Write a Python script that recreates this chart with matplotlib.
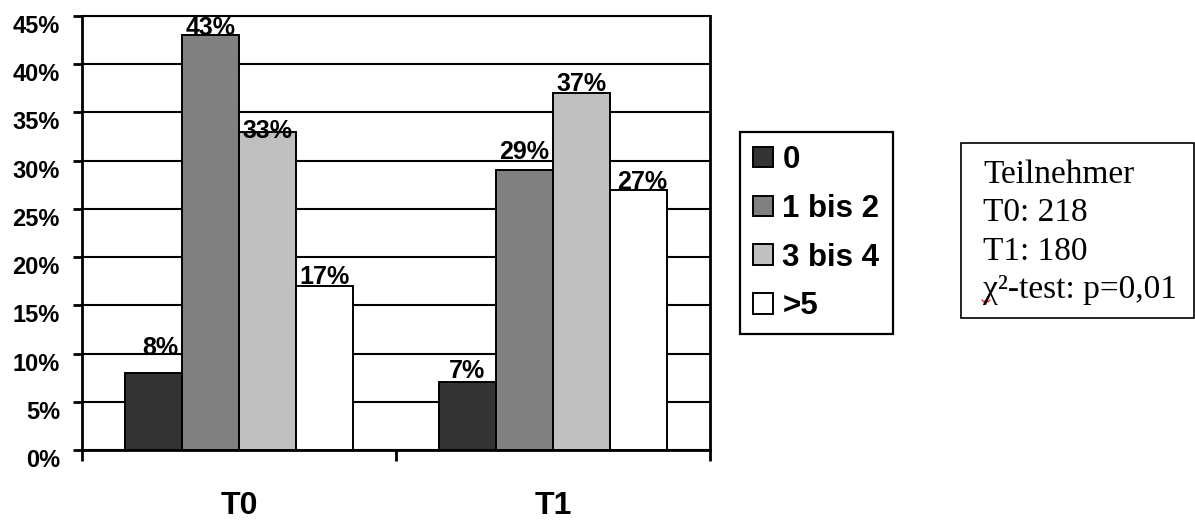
import numpy as np
import matplotlib
matplotlib.use("Agg")
import matplotlib.pyplot as plt
from matplotlib.patches import Rectangle
from matplotlib.lines import Line2D
from matplotlib.transforms import ScaledTranslation, blended_transform_factory

# ---- data -------------------------------------------------------------
groups = ["T0", "T1"]
series_names = ["0", "1 bis 2", "3 bis 4", ">5"]
share_0 = [8, 7]
share_1_2 = [43, 29]
share_3_4 = [33, 37]
share_5 = [17, 27]
y_ticks = [0, 5, 10, 15, 20, 25, 30, 35, 40, 45]
participants_t0 = 218
participants_t1 = 180
p_value = "0,01"

series = [share_0, share_1_2, share_3_4, share_5]
colors = ["#333333", "#808080", "#c0c0c0", "#ffffff"]

# label nudges (pixels, dx/dy) per series, per group
label_nudge = [
    [(7, 18), (0, 4)],
    [(0, 0), (0, 11)],
    [(0, -6), (0, 2)],
    [(0, 2), (3, 1)],
]

# ---- figure -----------------------------------------------------------
W, H, DPI = 1195, 521, 100
fig = plt.figure(figsize=(W / DPI, H / DPI), dpi=DPI)
fig.patch.set_facecolor("white")


def pt(p):
    """pixels -> points"""
    return p * 72.0 / DPI


ax = fig.add_axes([82 / W, 1 - 450 / H, (710 - 82) / W, (450 - 16) / H])

sans = "Liberation Sans"
x = np.arange(len(groups))
width = 0.182

for i, (vals, name, c) in enumerate(zip(series, series_names, colors)):
    pos = x + (i - 1.5) * width
    ax.bar(pos, vals, width, color=c, edgecolor="black", linewidth=1.4,
           label=name, zorder=3)
    for j, (xp, v) in enumerate(zip(pos, vals)):
        dx, dy = label_nudge[i][j]
        ax.annotate(f"{v}%", (xp, v), xytext=(pt(dx), pt(dy)),
                    textcoords="offset points", ha="center", va="baseline",
                    fontsize=18, fontweight="bold", family=sans, zorder=5)

ax.set_xlim(-0.5, 1.5)
ax.set_ylim(0, 45)

# grid and frame
ax.set_axisbelow(True)
ax.yaxis.grid(True, color="black", linewidth=1.5)
for side in ["left", "right", "bottom"]:
    ax.spines[side].set_linewidth(2.0)
ax.spines["top"].set_linewidth(1.5)

# y axis
ax.set_yticks(y_ticks)
ax.set_yticklabels([f"{t}%" for t in y_ticks])
ax.tick_params(axis="y", length=pt(9), width=2, pad=pt(13), labelsize=17)
shift = ScaledTranslation(0, -8 / DPI, fig.dpi_scale_trans)
for lab in ax.get_yticklabels():
    lab.set_fontweight("bold")
    lab.set_family(sans)
    lab.set_transform(lab.get_transform() + shift)

# x axis: separators between categories, names drawn below
ax.set_xticks([])
ax.set_xticks([-0.5, 0.5, 1.5], minor=True)
ax.tick_params(axis="x", which="minor", length=pt(11), width=2, direction="out")
trans = blended_transform_factory(ax.transData, ax.transAxes)
for xi, g in zip(x, groups):
    ax.text(xi, (450 - 514) / 434, g, transform=trans, ha="center",
            va="baseline", fontsize=23, fontweight="bold", family=sans)

# legend
leg = fig.legend(loc="upper left", bbox_to_anchor=(740 / W, 1 - 132 / H),
                 frameon=True, fancybox=False, edgecolor="black", framealpha=1,
                 prop=dict(family=sans, weight="bold", size=22.5),
                 handlelength=0.64, handleheight=0.64, handletextpad=0.3,
                 labelspacing=0.6, borderpad=0.42, borderaxespad=0)
leg.get_frame().set_linewidth(1.6)

# participants box
fig.patches.append(Rectangle((961 / W, 1 - 318 / H), (1194 - 961) / W,
                             (318 - 143) / H, transform=fig.transFigure,
                             fill=False, edgecolor="black", linewidth=1.2))
info_lines = ["Teilnehmer",
              f"T0: {participants_t0}",
              f"T1: {participants_t1}",
              f"\u03c7\u00b2-test: p={p_value}"]
for k, line in enumerate(info_lines):
    fig.text(983 / W, 1 - (183 + 38.4 * k) / H, line, ha="left",
             va="baseline", fontsize=24, family="Liberation Serif")

# spell-check squiggle under the chi
sx = np.arange(982, 992, 2)
sy = np.where(np.arange(len(sx)) % 2 == 0, 300, 302)
fig.add_artist(Line2D(sx / W, 1 - sy / H, transform=fig.transFigure,
                      color="red", linewidth=0.8))

fig.savefig("out.png", dpi=DPI)
